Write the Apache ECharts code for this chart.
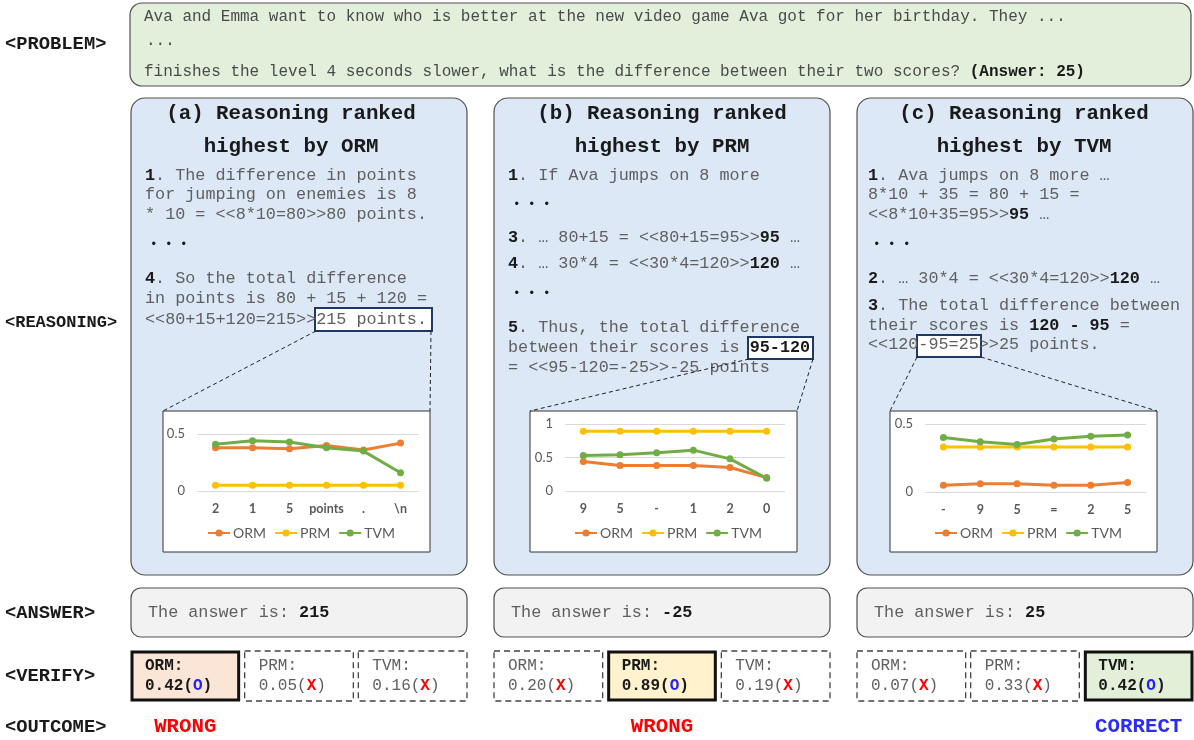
<!DOCTYPE html>
<html>
<head>
<meta charset="utf-8">
<script src="https://cdn.jsdelivr.net/npm/echarts@6/dist/echarts.min.js"></script>
<style>
  html, body { margin: 0; background: #fff; }
  #main { width: 1194px; height: 740px; }
</style>
</head>
<body>
<div id="main"></div>
<script>
// token-level scores
const catsA = ['2', '1', '5', 'points', '.', '\\n']
const ormA = [0.38, 0.38, 0.37, 0.40, 0.36, 0.42]
const prmA = [0.05, 0.05, 0.05, 0.05, 0.05, 0.05]
const tvmA = [0.41, 0.44, 0.43, 0.38, 0.35, 0.16]

const catsB = ['9', '5', '-', '1', '2', '0']
const ormB = [0.44, 0.38, 0.38, 0.38, 0.35, 0.20]
const prmB = [0.89, 0.89, 0.89, 0.89, 0.89, 0.89]
const tvmB = [0.53, 0.54, 0.57, 0.61, 0.48, 0.19]

const catsC = ['-', '9', '5', '=', '2', '5']
const ormC = [0.05, 0.06, 0.06, 0.05, 0.05, 0.07]
const prmC = [0.33, 0.33, 0.33, 0.33, 0.33, 0.33]
const tvmC = [0.40, 0.37, 0.35, 0.39, 0.41, 0.42]

const verifiers = ['ORM', 'PRM', 'TVM']
const yMaxes = [0.5, 1, 0.5]
const answers = ['215', '-25', '25']
const chosenBy = [0, 1, 2]
const outcomes = ['WRONG', 'WRONG', 'CORRECT']

const seriesSets = [[ormA, prmA, tvmA], [ormB, prmB, tvmB], [ormC, prmC, tvmC]]
const catSets = [catsA, catsB, catsC]

const MONO = '"Liberation Mono", "Courier New", monospace'
const SANS = 'Lato, "Liberation Sans", sans-serif'
const lineColors = ['#ed7d31', '#ffc000', '#70ad47']
const verifyFills = ['#fbe5d6', '#fff2cc', '#e2f0d9']

function rich(size) {
  return {
    b: { font: `bold ${size}px ${MONO}`, fill: '#1a1a1a' },
    o: { font: `bold ${size}px ${MONO}`, fill: '#2222ff' },
    x: { font: `bold ${size}px ${MONO}`, fill: '#ff0000' }
  }
}

function text(x, y, str, size, opt = {}) {
  return {
    type: 'text', x, y, z: -1,
    style: {
      text: str,
      font: `${opt.bold ? 'bold ' : ''}${size}px ${opt.family || MONO}`,
      fill: opt.color || '#606060',
      align: opt.align || 'left',
      verticalAlign: 'middle',
      rich: rich(size)
    }
  }
}

function rect(x, y, w, h, opt = {}) {
  return {
    type: 'rect', z: -1,
    shape: { x, y, width: w, height: h, r: opt.r || 0 },
    style: {
      fill: opt.fill || 'none',
      stroke: opt.stroke || '#555',
      lineWidth: opt.lw || 1,
      lineDash: opt.dash || null
    }
  }
}

function dash(x1, y1, x2, y2) {
  return {
    type: 'line', z: -1,
    shape: { x1, y1, x2, y2 },
    style: { stroke: '#222', lineWidth: 1, lineDash: [4, 3] }
  }
}

// layout of the three reasoning panels
const panels = [
  {
    x: 131, tx: 145, titleX: 291,
    title: ['(a) Reasoning ranked', 'highest by ORM'],
    lines: [
      [176, '{b|1}. The difference in points'],
      [195, 'for jumping on enemies is 8'],
      [215, '* 10 = <<8*10=80>>80 points.'],
      [245, null],
      [279, '{b|4}. So the total difference'],
      [299, 'in points is 80 + 15 + 120 ='],
      [320, '<<80+15+120=215>>215 points.']
    ],
    hl: [315, 308, 117, 23],
    links: [[316, 331, 163, 411], [431, 331, 430, 411]],
    box: 163
  },
  {
    x: 494, tx: 508, titleX: 662,
    title: ['(b) Reasoning ranked', 'highest by PRM'],
    lines: [
      [176, '{b|1}. If Ava jumps on 8 more'],
      [205, null],
      [238, '{b|3}. … 80+15 = <<80+15=95>>{b|95} …'],
      [264, '{b|4}. … 30*4 = <<30*4=120>>{b|120} …'],
      [294, null],
      [328, '{b|5}. Thus, the total difference'],
      [348, 'between their scores is {b|95-120}'],
      [368, '= <<95-120=-25>>-25 points']
    ],
    hl: [748, 337, 65, 22],
    links: [[749, 359, 530, 411], [813, 359, 797, 411]],
    box: 530
  },
  {
    x: 857, tx: 868, titleX: 1024,
    title: ['(c) Reasoning ranked', 'highest by TVM'],
    lines: [
      [176, '{b|1}. Ava jumps on 8 more …'],
      [195, '8*10 + 35 = 80 + 15 ='],
      [215, '<<8*10+35=95>>{b|95} …'],
      [245, null],
      [279, '{b|2}. … 30*4 = <<30*4=120>>{b|120} …'],
      [306, '{b|3}. The total difference between'],
      [326, 'their scores is {b|120 - 95} ='],
      [345, '<<120-95=25>>25 points.']
    ],
    hl: [917, 335, 64, 22],
    links: [[917, 357, 890, 411], [981, 357, 1157, 411]],
    box: 890
  }
]

const PW = 336
const elements = []

// row labels
elements.push(text(5, 44, '<PROBLEM>', 18.8, { bold: true, color: '#1a1a1a' }))
elements.push(text(5, 323, '<REASONING>', 17, { bold: true, color: '#1a1a1a' }))
elements.push(text(5, 613, '<ANSWER>', 18.8, { bold: true, color: '#1a1a1a' }))
elements.push(text(5, 676, '<VERIFY>', 18.8, { bold: true, color: '#1a1a1a' }))
elements.push(text(5, 727, '<OUTCOME>', 18.8, { bold: true, color: '#1a1a1a' }))

// problem box
elements.push(rect(130, 3, 1061, 83, { r: 12, fill: '#e2efda', stroke: '#505050', lw: 1.2 }))
elements.push(text(144, 17, 'Ava and Emma want to know who is better at the new video game Ava got for her birthday. They ...', 16, { color: '#4a4a4a' }))
elements.push(text(146, 41, '...', 16, { color: '#4a4a4a' }))
elements.push(text(144, 72, 'finishes the level 4 seconds slower, what is the difference between their two scores? {b|(Answer: 25)}', 16, { color: '#4a4a4a' }))

panels.forEach((p, i) => {
  elements.push(rect(p.x, 98, PW, 477, { r: 14, fill: '#dce8f5', stroke: '#505050', lw: 1.2 }))
  elements.push(rect(p.hl[0], p.hl[1], p.hl[2], p.hl[3], { fill: '#ffffff', stroke: '#1f3864', lw: 2 }))
  elements.push(text(p.titleX, 114, p.title[0], 20.8, { bold: true, color: '#1a1a1a', align: 'center' }))
  elements.push(text(p.titleX, 147, p.title[1], 20.8, { bold: true, color: '#1a1a1a', align: 'center' }))
  p.lines.forEach(([y, s]) => {
    if (s === null) {
      elements.push(text(p.tx + 5, y, '• • •', 12.5, { color: '#1a1a1a' }))
    } else {
      elements.push(text(p.tx, y, s, 16.8))
    }
  })
  elements.push(rect(p.box, 411, 267, 141, { fill: '#ffffff', stroke: '#333', lw: 1 }))
  p.links.forEach(l => elements.push(dash(l[0], l[1], l[2], l[3])))

  // answer
  elements.push(rect(p.x, 588, PW, 49, { r: 10, fill: '#f2f2f2', stroke: '#505050', lw: 1.2 }))
  elements.push(text(p.x + 17, 613, 'The answer is: {b|' + answers[i] + '}', 16.8))

  // verifier scores (last token of each curve)
  const bw = (PW - 10) / 3
  seriesSets[i].forEach((vals, k) => {
    const bx = p.x + k * (bw + 5)
    const score = vals[vals.length - 1].toFixed(2)
    const picked = k === chosenBy[i]
    if (picked) {
      elements.push(rect(bx + 1, 652, bw - 2, 48, { fill: verifyFills[k], stroke: '#111', lw: 3 }))
      elements.push(text(bx + 14, 666, verifiers[k] + ':', 16, { bold: true, color: '#1a1a1a' }))
      elements.push(text(bx + 14, 686, score + '({o|O})', 16, { bold: true, color: '#1a1a1a' }))
      elements.push(text(bx + bw / 2, 727, outcomes[i], 20.8, {
        bold: true, align: 'center', color: outcomes[i] === 'CORRECT' ? '#2b2bff' : '#ff0000'
      }))
    } else {
      elements.push(rect(bx, 651, bw, 50, { stroke: '#444', lw: 1.3, dash: [6, 4] }))
      elements.push(text(bx + 14, 666, verifiers[k] + ':', 16))
      elements.push(text(bx + 14, 686, score + '({x|X})', 16))
    }
  })
})

const grids = [
  { left: 197, top: 434, width: 222, height: 57 },
  { left: 565, top: 424, width: 220, height: 67 },
  { left: 925, top: 424, width: 221, height: 68 }
]
const legendLeft = [207, 574, 934]

const series = []
seriesSets.forEach((set, i) => {
  set.forEach((vals, k) => {
    series.push({
      type: 'line',
      name: verifiers[k],
      xAxisIndex: i,
      yAxisIndex: i,
      data: vals,
      symbol: 'circle',
      symbolSize: 7,
      lineStyle: { width: 3, color: lineColors[k] },
      itemStyle: { color: lineColors[k] },
      emphasis: { disabled: true }
    })
  })
})

const chart = echarts.init(document.getElementById('main'))
chart.setOption({
  animation: false,
  graphic: { elements },
  grid: grids,
  xAxis: catSets.map((cats, i) => ({
    type: 'category',
    gridIndex: i,
    data: cats,
    axisLine: { show: false },
    axisTick: { show: false },
    axisLabel: { fontFamily: SANS, fontSize: 12.5, fontWeight: 'bold', color: '#595959', margin: 11, interval: 0 }
  })),
  yAxis: yMaxes.map((max, i) => ({
    type: 'value',
    gridIndex: i,
    min: 0,
    max,
    interval: 0.5,
    axisLine: { show: false },
    axisTick: { show: false },
    axisLabel: { fontFamily: SANS, fontSize: 13, color: '#595959', margin: 12 },
    splitLine: { lineStyle: { color: '#d9d9d9', width: 1 } }
  })),
  legend: legendLeft.map(left => ({
    left,
    top: 526,
    padding: 0,
    itemWidth: 22,
    itemHeight: 9,
    itemGap: 8,
    selectedMode: false,
    data: verifiers,
    textStyle: { fontFamily: SANS, fontSize: 14, color: '#595959', padding: [0, 0, 0, -2] }
  })),
  series
})
</script>
</body>
</html>
